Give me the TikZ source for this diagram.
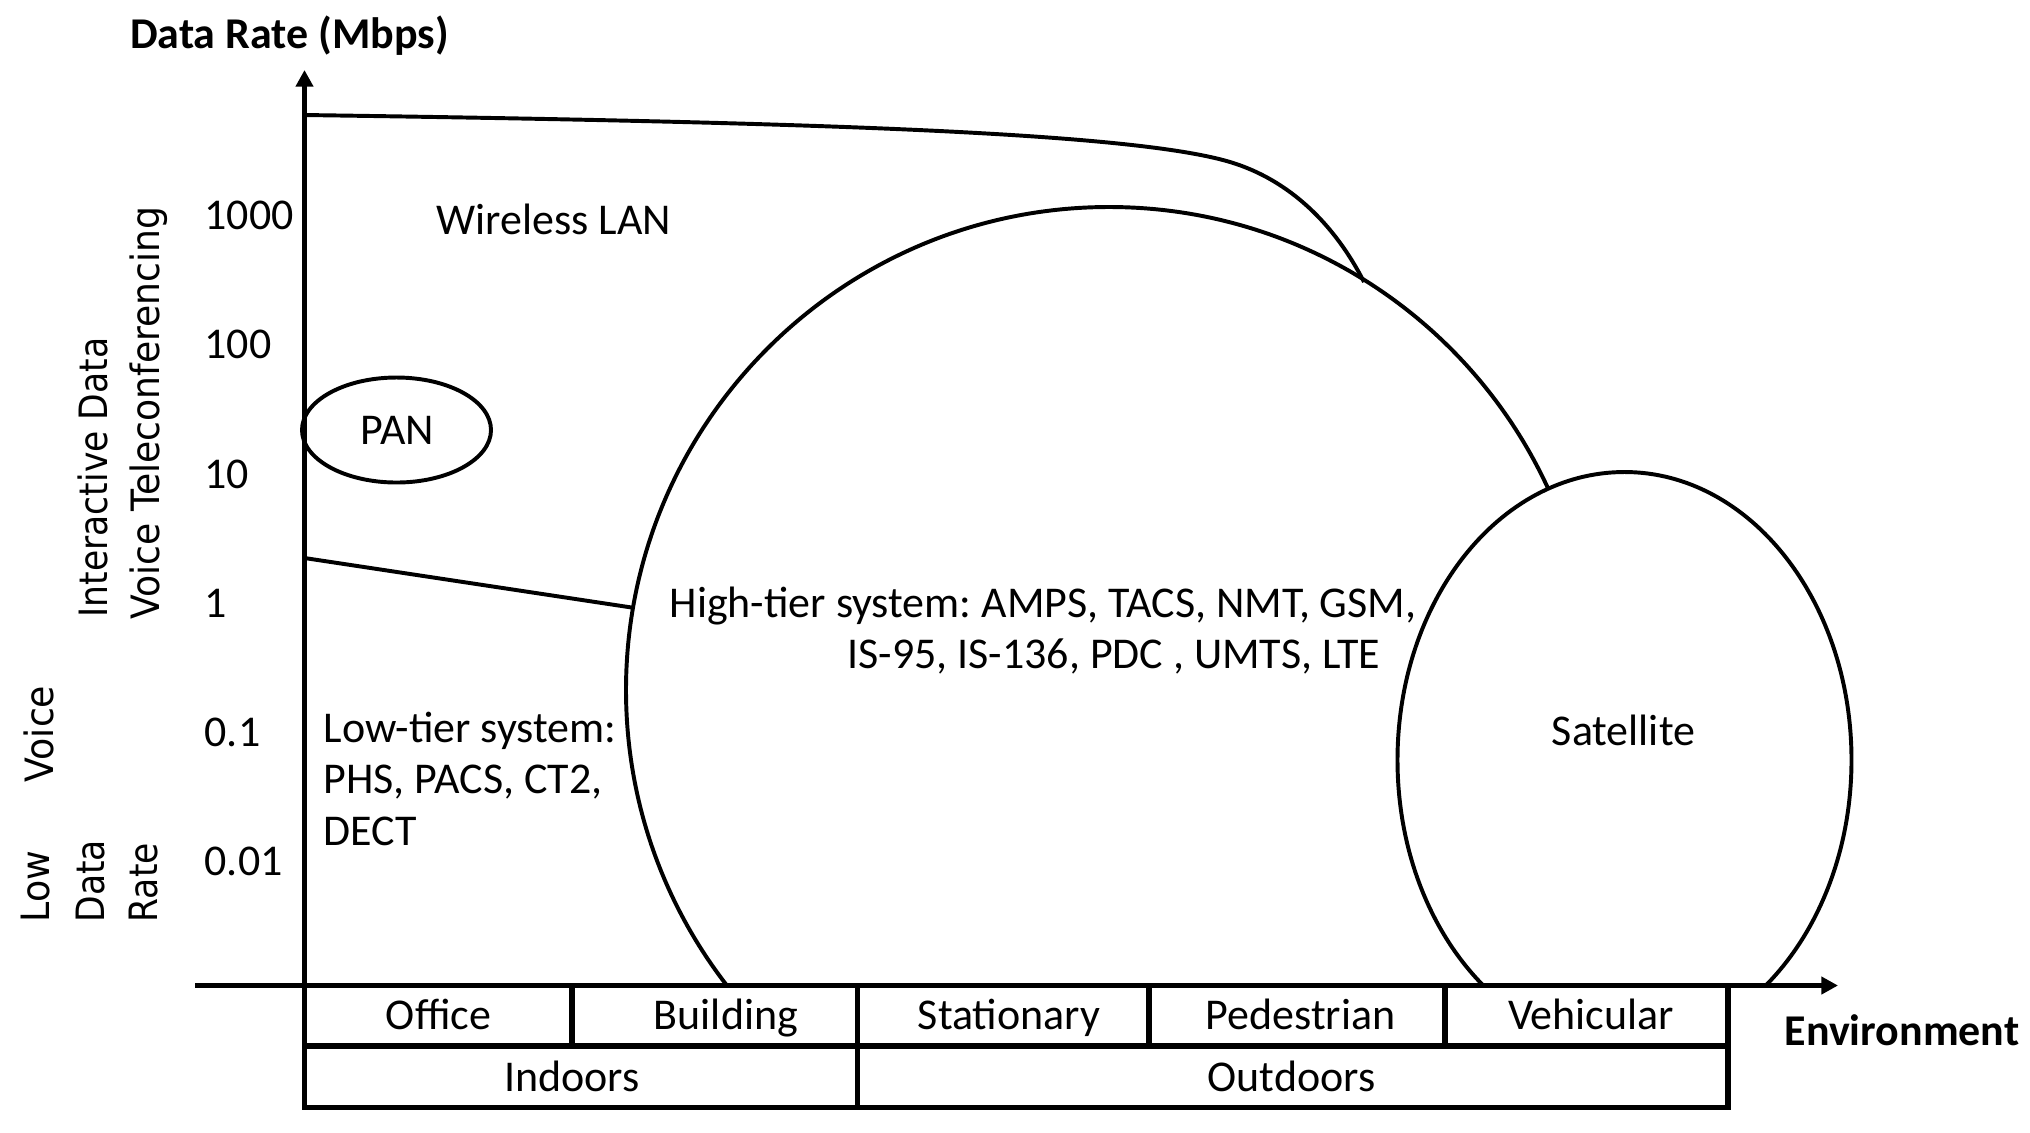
\documentclass[tikz,border=0pt]{standalone}
\usepackage{fontspec}
\setmainfont{Carlito}
\newfontfamily\vfont{DejaVu Sans}
\usepackage{graphicx}
\usetikzlibrary{arrows.meta}
\frenchspacing
\tikzset{
  txt/.style={inner sep=0pt, font=\fontsize{12.5pt}{15pt}\selectfont},
  btxt/.style={inner sep=0pt, font=\fontsize{12.5pt}{15pt}\selectfont\bfseries},
  vlab/.style={inner sep=0pt, rotate=90, anchor=base west, font=\vfont\fontsize{11.1pt}{13pt}\selectfont},
  axisline/.style={line width=1.56pt},
  curveline/.style={line width=1.12pt},
  axtip/.style={-{Triangle[length=4.7pt,width=4.8pt]}}
}
\newcommand{\vsq}[2]{\scalebox{#1}[1]{#2}}
\begin{document}
\begin{tikzpicture}[x=0.01cm,y=-0.01cm]
\useasboundingbox (0,0) rectangle (2030,1132);
\fill[white] (0,0) rectangle (2030,1132);

% key coordinates
\coordinate (cc) at (1109,690);
\coordinate (sc) at (1624.5,760);
\coordinate (pc) at (396.5,430);
\coordinate (ytip) at (304.5,70);
\coordinate (xstart) at (195,985.5);
\coordinate (xtip) at (1838,985.5);
\coordinate (tbl) at (304.5,1107.5);
\coordinate (wl0) at (304.5,115);
\coordinate (wl1) at (1230,162);
\coordinate (wl2) at (1364,282);
\coordinate (lt0) at (304.5,558);
\coordinate (lt1) at (633,607.7);

% high-tier circle and satellite (above the axis)
\begin{scope}
  \clip (0,0) rectangle (2030,985.5);
  \draw[curveline] (cc) circle[radius=483];
  \fill[white] (sc) ellipse[x radius=227, y radius=288];
  \draw[curveline] (sc) ellipse[x radius=227, y radius=288];
\end{scope}

% wireless LAN boundary
\draw[curveline] (wl0) .. controls (800,122) and (1130,132) .. (wl1)
                       .. controls (1290,180) and (1335,225) .. (wl2);
% low-tier boundary
\draw[curveline] (lt0) -- (lt1);
% PAN
\draw[curveline] (pc) ellipse[x radius=94.5, y radius=52.5];

% table
\draw[axisline] (304.5,985.5) rectangle (1728,1107.5);
\draw[axisline] (304.5,1046) -- (1728,1046);
\draw[axisline] (572,985.5) -- (572,1046);
\draw[axisline] (857.5,985.5) -- (857.5,1107.5);
\draw[axisline] (1149,985.5) -- (1149,1046);
\draw[axisline] (1445,985.5) -- (1445,1046);

% axes
\draw[axisline,axtip] (tbl) -- (ytip);
\draw[axisline,axtip] (xstart) -- (xtip);

% texts
\node[btxt, anchor=base west] (ylabel) at (129.4,48.7) {Data Rate (Mbps)};
\node[btxt, anchor=base west] (xlabel) at (1784,1045) {Environment};

\node[txt, anchor=base west] (t1000) at (204,229) {1000};
\node[txt, anchor=base west] (t100) at (204,358) {100};
\node[txt, anchor=base west] (t10) at (204,488) {10};
\node[txt, anchor=base west] (t1) at (204,617) {1};
\node[txt, anchor=base west] (t01) at (204,746) {0.1};
\node[txt, anchor=base west] (t001) at (204,875) {0.01};

\node[vlab] (v1) at (107,618) {\vsq{0.885}{Interactive Data}};
\node[vlab] (v2) at (159,620) {\vsq{0.925}{Voice Teleconferencing}};
\node[vlab] (v3) at (53,783) {\vsq{0.93}{Voice}};
\node[vlab] (v4) at (50,923) {\vsq{0.93}{Low}};
\node[vlab] (v5) at (104,923) {\vsq{0.885}{Data}};
\node[vlab] (v6) at (157,923) {\vsq{0.885}{Rate}};

\node[txt, anchor=base west] (wlan) at (436,234) {Wireless LAN};
\node[txt, anchor=base] (pan) at (397.5,444) {PAN};
\node[txt, anchor=base west] (hi1) at (669,617) {High-tier system: AMPS, TACS, NMT, GSM,};
\node[txt, anchor=base west] (hi2) at (847,668) {IS-95, IS-136, PDC , UMTS, LTE};
\node[txt, anchor=base west] (lo1) at (323,742) {Low-tier system:};
\node[txt, anchor=base west] (lo2) at (323,793.5) {PHS, PACS, CT2,};
\node[txt, anchor=base west] (lo3) at (323,845) {DECT};
\node[txt, anchor=base] (sat) at (1623.5,745) {Satellite};

\node[txt, anchor=base] (office) at (438.5,1029) {Office};
\node[txt, anchor=base] (building) at (726,1029) {Building};
\node[txt, anchor=base] (stationary) at (1009,1029) {Stationary};
\node[txt, anchor=base] (pedestrian) at (1300.5,1029) {Pedestrian};
\node[txt, anchor=base] (vehicular) at (1591,1029) {Vehicular};
\node[txt, anchor=base] (indoors) at (572,1091) {Indoors};
\node[txt, anchor=base] (outdoors) at (1291.5,1091) {Outdoors};
\end{tikzpicture}
\end{document}
